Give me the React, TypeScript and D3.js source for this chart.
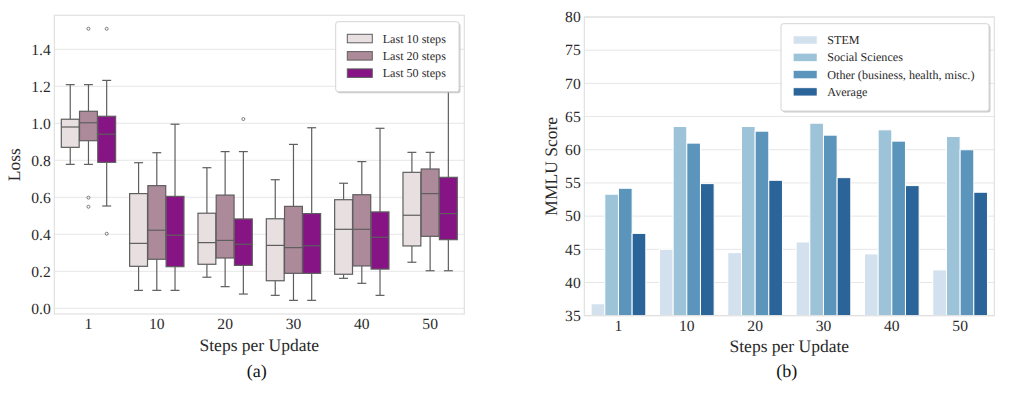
import React, { useEffect, useRef } from 'react';
import * as d3 from 'd3';

// categories shared by both panels
const steps = ['1', '10', '20', '30', '40', '50'];

// (a) loss box plots: [whiskerLow, q1, median, q3, whiskerHigh] per step
const boxSeries = ['Last 10 steps', 'Last 20 steps', 'Last 50 steps'];
const last10Stats = [
  [0.778, 0.870, 0.980, 1.022, 1.209],
  [0.097, 0.227, 0.351, 0.620, 0.787],
  [0.168, 0.238, 0.355, 0.514, 0.760],
  [0.070, 0.149, 0.340, 0.484, 0.695],
  [0.162, 0.184, 0.427, 0.587, 0.676],
  [0.249, 0.337, 0.503, 0.735, 0.843],
];
const last20Stats = [
  [0.778, 0.906, 1.003, 1.065, 1.209],
  [0.097, 0.265, 0.422, 0.663, 0.841],
  [0.117, 0.272, 0.367, 0.612, 0.847],
  [0.043, 0.189, 0.328, 0.551, 0.886],
  [0.135, 0.229, 0.427, 0.614, 0.793],
  [0.203, 0.389, 0.620, 0.753, 0.843],
];
const last50Stats = [
  [0.553, 0.789, 0.941, 1.038, 1.232],
  [0.097, 0.225, 0.395, 0.605, 0.995],
  [0.077, 0.232, 0.346, 0.483, 0.847],
  [0.043, 0.189, 0.338, 0.512, 0.976],
  [0.070, 0.212, 0.384, 0.521, 0.973],
  [0.203, 0.371, 0.512, 0.708, 1.250],
];
const last10Outliers = [[], [], [], [], [], []];
const last20Outliers = [[1.511, 0.598, 0.549], [], [], [], [], []];
const last50Outliers = [[1.511, 0.403], [], [1.023], [], [], []];
const lossTicks = [0, 0.2, 0.4, 0.6, 0.8, 1.0, 1.2, 1.4];

// (b) MMLU scores
const mmluSeries = ['STEM', 'Social Sciences', 'Other (business, health, misc.)', 'Average'];
const stemScores = [36.8, 45.0, 44.5, 46.1, 44.3, 41.9];
const socialScores = [53.3, 63.5, 63.5, 64.0, 63.0, 62.0];
const otherScores = [54.2, 61.0, 62.8, 62.2, 61.3, 60.0];
const avgScores = [47.4, 54.9, 55.4, 55.8, 54.6, 53.6];
const mmluTicks = [35, 40, 45, 50, 55, 60, 65, 70, 75, 80];

const boxColors = ['#e8dfe0', '#ad8a9a', '#871485'];
const barColors = ['#d3e0ee', '#9dc3d8', '#5b95bc', '#2b6499'];
const FONT = '"Liberation Serif", "Times New Roman", serif';
const GRID = '#e6e6e6';
const TEXT = '#2a2a2a';
const LINE = '#5e5e5e';

const App = () => {
  const svgRef = useRef<SVGSVGElement>(null);

  useEffect(() => {
    const svg = d3.select(svgRef.current);
    svg.selectAll('*').remove();

    // ---------- panel (a) ----------
    const ax = { left: 54.3, right: 464.3, top: 15.3, bottom: 314 };
    const x = d3.scaleBand().domain(steps).range([ax.left, ax.right]).padding(0);
    const y = d3.scaleLinear().domain([-0.0308, 1.5838]).range([ax.bottom, ax.top]);
    const inner = d3.scaleBand().domain(boxSeries).range([0, x.bandwidth() * 0.8]);

    const a = svg.append('g');
    a.selectAll('line.grid')
      .data(lossTicks)
      .join('line')
      .attr('x1', ax.left).attr('x2', ax.right)
      .attr('y1', d => y(d)).attr('y2', d => y(d))
      .attr('stroke', GRID).attr('stroke-width', 1);
    a.append('rect')
      .attr('x', ax.left).attr('y', ax.top)
      .attr('width', ax.right - ax.left).attr('height', ax.bottom - ax.top)
      .attr('fill', 'none').attr('stroke', '#dedede').attr('stroke-width', 1.1);

    a.selectAll('text.ytick')
      .data(lossTicks)
      .join('text')
      .attr('x', ax.left - 3.6).attr('y', d => y(d)).attr('dy', '0.34em')
      .attr('text-anchor', 'end')
      .style('font-family', FONT).style('font-size', '15.6px').attr('fill', TEXT)
      .text(d => d.toFixed(1));
    a.selectAll('text.xtick')
      .data(steps)
      .join('text')
      .attr('x', d => x(d)! + x.bandwidth() / 2).attr('y', ax.bottom + 15)
      .attr('text-anchor', 'middle')
      .style('font-family', FONT).style('font-size', '15.6px').attr('fill', TEXT)
      .text(d => d);

    const allStats = [last10Stats, last20Stats, last50Stats];
    const allOut = [last10Outliers, last20Outliers, last50Outliers];
    boxSeries.forEach((s, si) => {
      steps.forEach((st, ci) => {
        const [lo, q1, med, q3, hi] = allStats[si][ci];
        const bw = inner.bandwidth() * 0.98;
        const cx = x(st)! + x.bandwidth() * 0.1 + inner(s)! + inner.bandwidth() / 2;
        const g = a.append('g');
        g.append('line').attr('x1', cx).attr('x2', cx).attr('y1', y(q3)).attr('y2', y(hi))
          .attr('stroke', LINE).attr('stroke-width', 1.2);
        g.append('line').attr('x1', cx).attr('x2', cx).attr('y1', y(q1)).attr('y2', y(lo))
          .attr('stroke', LINE).attr('stroke-width', 1.2);
        [lo, hi].forEach(v => {
          g.append('line').attr('x1', cx - bw / 4).attr('x2', cx + bw / 4)
            .attr('y1', y(v)).attr('y2', y(v))
            .attr('stroke', LINE).attr('stroke-width', 1.2);
        });
        g.append('rect')
          .attr('x', cx - bw / 2).attr('y', y(q3))
          .attr('width', bw).attr('height', y(q1) - y(q3))
          .attr('fill', boxColors[si]).attr('stroke', LINE).attr('stroke-width', 1.2);
        g.append('line').attr('x1', cx - bw / 2).attr('x2', cx + bw / 2)
          .attr('y1', y(med)).attr('y2', y(med))
          .attr('stroke', LINE).attr('stroke-width', 1.2);
        g.selectAll('circle')
          .data(allOut[si][ci])
          .join('circle')
          .attr('cx', cx).attr('cy', d => y(d)).attr('r', 1.5)
          .attr('fill', 'none').attr('stroke', LINE).attr('stroke-width', 0.8);
      });
    });

    // legend (a)
    const la = a.append('g').attr('transform', 'translate(335.7,21.7)');
    la.append('rect').attr('x', 1.5).attr('y', 1.5).attr('width', 123.3).attr('height', 70)
      .attr('rx', 2.5).attr('fill', '#aaaaaa').attr('opacity', 0.6);
    la.append('rect').attr('width', 123.3).attr('height', 70).attr('rx', 2.5)
      .attr('fill', 'white').attr('stroke', '#d4d4d4').attr('stroke-width', 1);
    boxSeries.forEach((s, i) => {
      la.append('rect').attr('x', 11.6).attr('y', 12.6 + i * 17.3).attr('width', 25).attr('height', 8.5)
        .attr('fill', boxColors[i]).attr('stroke', LINE).attr('stroke-width', 1);
      la.append('text').attr('x', 47).attr('y', 16.8 + i * 17.3).attr('dy', '0.34em')
        .style('font-family', FONT).style('font-size', '12.1px').attr('fill', TEXT)
        .text(s);
    });

    a.append('text')
      .attr('transform', `translate(19.5,${(ax.top + ax.bottom) / 2}) rotate(-90)`)
      .attr('text-anchor', 'middle')
      .style('font-family', FONT).style('font-size', '17.5px').attr('fill', TEXT)
      .text('Loss');
    a.append('text')
      .attr('x', (ax.left + ax.right) / 2).attr('y', 351)
      .attr('text-anchor', 'middle')
      .style('font-family', FONT).style('font-size', '17.5px').attr('fill', TEXT)
      .text('Steps per Update');
    a.append('text')
      .attr('x', 256.7).attr('y', 377)
      .attr('text-anchor', 'middle')
      .style('font-family', FONT).style('font-size', '18px').attr('fill', '#111')
      .text('(a)');

    // ---------- panel (b) ----------
    const bx = { left: 584.3, right: 994.3, top: 17, bottom: 315.7 };
    const x2 = d3.scaleBand().domain(steps).range([bx.left, bx.right]).padding(0);
    const y2 = d3.scaleLinear().domain([35, 80]).range([bx.bottom, bx.top]);
    const inner2 = d3.scaleBand().domain(mmluSeries).range([0, x2.bandwidth() * 0.8]);
    const b = svg.append('g');

    b.selectAll('line.grid')
      .data(mmluTicks)
      .join('line')
      .attr('x1', bx.left).attr('x2', bx.right)
      .attr('y1', d => y2(d)).attr('y2', d => y2(d))
      .attr('stroke', GRID).attr('stroke-width', 1);

    const allScores = [stemScores, socialScores, otherScores, avgScores];
    mmluSeries.forEach((s, si) => {
      b.selectAll(`rect.s${si}`)
        .data(allScores[si])
        .join('rect')
        .attr('x', (d, i) => x2(steps[i])! + x2.bandwidth() * 0.1 + inner2(s)!)
        .attr('y', d => y2(d))
        .attr('width', inner2.bandwidth())
        .attr('height', d => y2(35) - y2(d))
        .attr('fill', barColors[si]).attr('stroke', 'white').attr('stroke-width', 1);
    });

    b.append('rect')
      .attr('x', bx.left).attr('y', bx.top)
      .attr('width', bx.right - bx.left).attr('height', bx.bottom - bx.top)
      .attr('fill', 'none').attr('stroke', '#dedede').attr('stroke-width', 1.1);

    b.selectAll('text.ytick')
      .data(mmluTicks)
      .join('text')
      .attr('x', bx.left - 3.6).attr('y', d => y2(d)).attr('dy', '0.34em')
      .attr('text-anchor', 'end')
      .style('font-family', FONT).style('font-size', '15.6px').attr('fill', TEXT)
      .text(d => d);
    b.selectAll('text.xtick')
      .data(steps)
      .join('text')
      .attr('x', d => x2(d)! + x2.bandwidth() / 2).attr('y', bx.bottom + 15)
      .attr('text-anchor', 'middle')
      .style('font-family', FONT).style('font-size', '15.6px').attr('fill', TEXT)
      .text(d => d);

    // legend (b)
    const lb = b.append('g').attr('transform', 'translate(781,23.7)');
    lb.append('rect').attr('x', 1.5).attr('y', 1.5).attr('width', 208).attr('height', 87.3)
      .attr('rx', 2.5).attr('fill', '#aaaaaa').attr('opacity', 0.6);
    lb.append('rect').attr('width', 208).attr('height', 87.3).attr('rx', 2.5)
      .attr('fill', 'white').attr('stroke', '#d4d4d4').attr('stroke-width', 1);
    mmluSeries.forEach((s, i) => {
      lb.append('rect').attr('x', 12.3).attr('y', 12.3 + i * 17.3).attr('width', 23.7).attr('height', 8)
        .attr('fill', barColors[i]).attr('stroke', 'white').attr('stroke-width', 0.5);
      lb.append('text').attr('x', 46.3).attr('y', 16.3 + i * 17.3).attr('dy', '0.34em')
        .style('font-family', FONT).style('font-size', '12.1px').attr('fill', TEXT)
        .text(s);
    });

    b.append('text')
      .attr('transform', `translate(556.5,${(bx.top + bx.bottom) / 2}) rotate(-90)`)
      .attr('text-anchor', 'middle')
      .style('font-family', FONT).style('font-size', '17.5px').attr('fill', TEXT)
      .text('MMLU Score');
    b.append('text')
      .attr('x', (bx.left + bx.right) / 2).attr('y', 351.7)
      .attr('text-anchor', 'middle')
      .style('font-family', FONT).style('font-size', '17.5px').attr('fill', TEXT)
      .text('Steps per Update');
    b.append('text')
      .attr('x', 786.7).attr('y', 377)
      .attr('text-anchor', 'middle')
      .style('font-family', FONT).style('font-size', '18px').attr('fill', '#111')
      .text('(b)');
  }, []);

  return (
    <svg
      ref={svgRef}
      width={1025}
      height={394}
      textRendering="geometricPrecision"
      style={{ position: 'absolute', left: 0, top: 0, background: 'white' }}
    />
  );
};

export default App;
